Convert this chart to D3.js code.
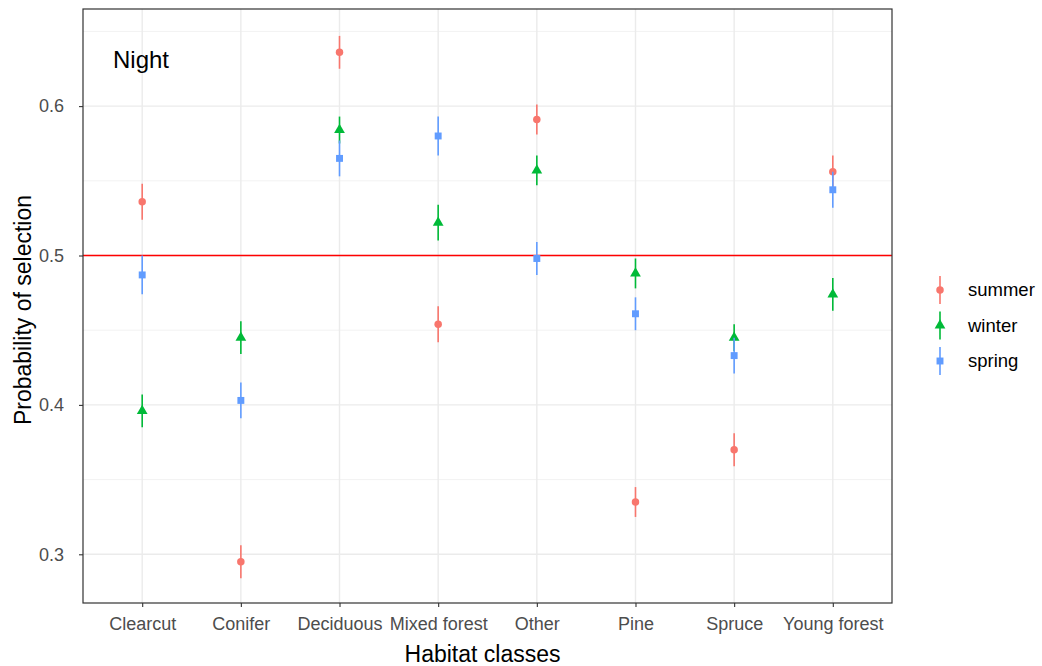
<!DOCTYPE html>
<html>
<head>
<meta charset="utf-8">
<title>Night habitat selection</title>
<script src="https://d3js.org/d3.v7.min.js"></script>
<style>
  body { margin: 0; background: #fff; }
  text { font-family: "Liberation Sans", Arial, sans-serif; }
</style>
</head>
<body>
<script>
var categories = ["Clearcut", "Conifer", "Deciduous", "Mixed forest", "Other", "Pine", "Spruce", "Young forest"];
var seasons = ["summer", "winter", "spring"];
var summerVals = [0.536, 0.295, 0.636, 0.454, 0.591, 0.335, 0.370, 0.556];
var summerErr  = [0.012, 0.011, 0.011, 0.012, 0.010, 0.010, 0.011, 0.011];
var winterVals = [0.396, 0.445, 0.584, 0.522, 0.557, 0.488, 0.445, 0.474];
var winterErr  = [0.011, 0.011, 0.009, 0.012, 0.010, 0.010, 0.009, 0.011];
var springVals = [0.487, 0.403, 0.565, 0.580, 0.498, 0.461, 0.433, 0.544];
var springErr  = [0.013, 0.012, 0.012, 0.013, 0.011, 0.011, 0.012, 0.012];
var yTicks = [0.3, 0.4, 0.5, 0.6];
var yMinor = [0.35, 0.45, 0.55, 0.65];

var colors = {summer: "#F8766D", winter: "#00BA38", spring: "#619CFF"};
var shapes = {summer: d3.symbolCircle, winter: d3.symbolTriangle, spring: d3.symbolSquare};
var symSize = {summer: 44, winter: 50, spring: 48};

var series = [
  {name: "summer", vals: summerVals, err: summerErr},
  {name: "winter", vals: winterVals, err: winterErr},
  {name: "spring", vals: springVals, err: springErr}
];

var W = 1042, H = 666;
var pLeft = 83, pRight = 892, pTop = 9, pBottom = 603;

var svg = d3.select("body").append("svg").attr("width", W).attr("height", H);

// discrete x with ggplot-like 0.6 expansion
var step = (pRight - pLeft) / (categories.length - 1 + 1.2);
var x = d3.scalePoint().domain(categories)
  .range([pLeft + 0.6 * step, pRight - 0.6 * step]);
var y = d3.scaleLinear().domain([0.2674, 0.665]).range([pBottom, pTop]);

var g = svg.append("g");

// grid
g.selectAll(".minor").data(yMinor).enter().append("line")
  .attr("x1", pLeft).attr("x2", pRight)
  .attr("y1", function(d){ return y(d); }).attr("y2", function(d){ return y(d); })
  .attr("stroke", "#F2F2F2").attr("stroke-width", 1);
g.selectAll(".major").data(yTicks).enter().append("line")
  .attr("x1", pLeft).attr("x2", pRight)
  .attr("y1", function(d){ return y(d); }).attr("y2", function(d){ return y(d); })
  .attr("stroke", "#EBEBEB").attr("stroke-width", 1.4);
g.selectAll(".vgrid").data(categories).enter().append("line")
  .attr("y1", pTop).attr("y2", pBottom)
  .attr("x1", function(d){ return x(d); }).attr("x2", function(d){ return x(d); })
  .attr("stroke", "#EBEBEB").attr("stroke-width", 1.4);

// reference line
g.append("line").attr("x1", pLeft).attr("x2", pRight)
  .attr("y1", y(0.5)).attr("y2", y(0.5))
  .attr("stroke", "#FF0000").attr("stroke-width", 1.4);

// error bars and points
series.forEach(function(s){
  var sg = g.append("g");
  sg.selectAll("line").data(s.vals).enter().append("line")
    .attr("x1", function(d, i){ return x(categories[i]); })
    .attr("x2", function(d, i){ return x(categories[i]); })
    .attr("y1", function(d, i){ return y(d - s.err[i]); })
    .attr("y2", function(d, i){ return y(d + s.err[i]); })
    .attr("stroke", colors[s.name]).attr("stroke-width", 1.6);
  sg.selectAll("path").data(s.vals).enter().append("path")
    .attr("d", d3.symbol().type(shapes[s.name]).size(symSize[s.name]))
    .attr("transform", function(d, i){ return "translate(" + x(categories[i]) + "," + y(d) + ")"; })
    .attr("fill", colors[s.name]);
});

// panel border
svg.append("rect").attr("x", pLeft).attr("y", pTop)
  .attr("width", pRight - pLeft).attr("height", pBottom - pTop)
  .attr("fill", "none").attr("stroke", "#333333").attr("stroke-width", 1.2);

// axes
var xAxis = svg.append("g").attr("transform", "translate(0," + pBottom + ")")
  .call(d3.axisBottom(x).tickSize(4).tickPadding(10));
var yAxis = svg.append("g").attr("transform", "translate(" + pLeft + ",0)")
  .call(d3.axisLeft(y).tickValues(yTicks).tickSize(4).tickPadding(15).tickFormat(d3.format(".1f")));
[xAxis, yAxis].forEach(function(a){
  a.select(".domain").remove();
  a.selectAll(".tick line").attr("stroke", "#333333").attr("stroke-width", 1.1);
  a.selectAll(".tick text").attr("fill", "#4D4D4D").style("font-size", "18px")
    .style("font-family", "'Liberation Sans', Arial, sans-serif");
});

// titles
svg.append("text").attr("x", (pLeft + pRight) / 2 - 5).attr("y", 662)
  .attr("text-anchor", "middle").style("font-size", "23px").attr("fill", "#000")
  .text("Habitat classes");
svg.append("text").attr("transform", "translate(31," + ((pTop + pBottom) / 2 + 4) + ") rotate(-90)")
  .attr("text-anchor", "middle").style("font-size", "23px").attr("fill", "#000")
  .text("Probability of selection");
svg.append("text").attr("x", 113).attr("y", 68)
  .style("font-size", "24px").attr("fill", "#000").text("Night");

// legend
var legend = svg.append("g");
seasons.forEach(function(name, i){
  var ly = 290 + i * 35.5;
  var lg = legend.append("g").attr("transform", "translate(940," + ly + ")");
  lg.append("line").attr("x1", 0).attr("x2", 0).attr("y1", -14).attr("y2", 14)
    .attr("stroke", colors[name]).attr("stroke-width", 1.6);
  lg.append("path").attr("d", d3.symbol().type(shapes[name]).size(symSize[name]))
    .attr("fill", colors[name]);
  lg.append("text").attr("x", 28).attr("y", 6).style("font-size", "18.5px")
    .attr("fill", "#000").text(name);
});
</script>
</body>
</html>
